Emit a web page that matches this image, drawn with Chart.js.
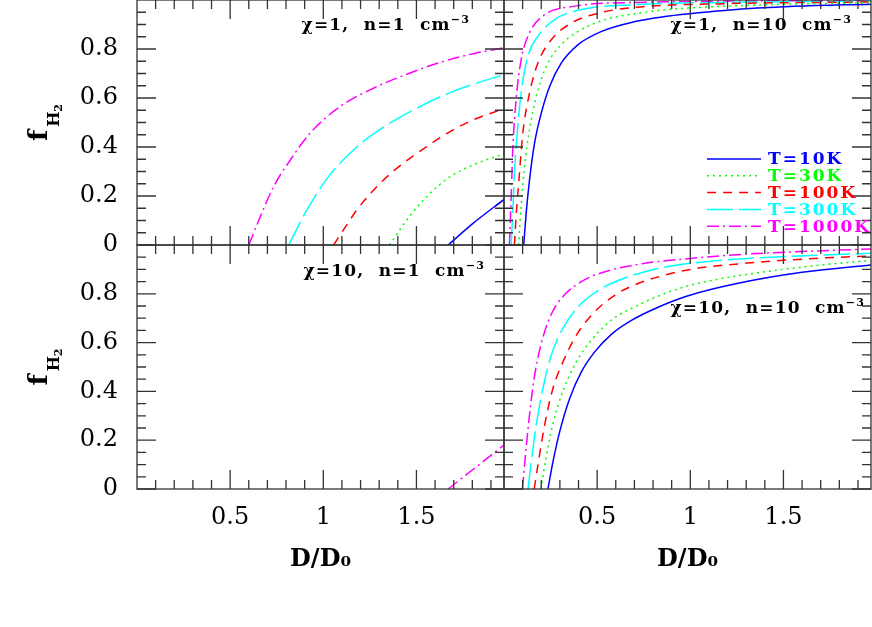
<!DOCTYPE html>
<html>
<head>
<meta charset="utf-8">
<script src="https://cdn.jsdelivr.net/npm/chart.js@4.4.0/dist/chart.umd.min.js"></script>
<style>
  html, body { margin: 0; padding: 0; background: #fff; }
  #wrap { position: relative; width: 872px; height: 627px; }
  #wrap canvas { position: absolute; left: 0; top: 0; }
</style>
</head>
<body>
<div id="wrap">
  <canvas id="c1" width="872" height="627"></canvas>
  <canvas id="c2" width="872" height="627"></canvas>
  <canvas id="c3" width="872" height="627"></canvas>
  <canvas id="c4" width="872" height="627"></canvas>
</div>
<script>
// ---- data ----
const tempLabels = ['T=10K', 'T=30K', 'T=100K', 'T=300K', 'T=1000K'];

const xMajorTicks = [0.5, 1, 1.5];
const xTickLabels = ['0.5', '1', '1.5'];
const xMinorTicks = [0.1, 0.2, 0.3, 0.4, 0.6, 0.7, 0.8, 0.9, 1.1, 1.2, 1.3, 1.4, 1.6, 1.7, 1.8, 1.9];
const yMajorTicks = [0, 0.2, 0.4, 0.6, 0.8];
const yTickLabels = ['0', '0.2', '0.4', '0.6', '0.8'];
const yMinorTicks = [0.05, 0.1, 0.15, 0.25, 0.3, 0.35, 0.45, 0.5, 0.55, 0.65, 0.7, 0.75, 0.85, 0.9, 0.95];

// chi=1, n=1
const c1n1_T10 = [[1.671, 0], [1.805, 0.089], [1.97, 0.186]];
const c1n1_T30 = [[1.355, 0], [1.448, 0.102], [1.555, 0.197], [1.68, 0.279], [1.805, 0.327], [1.97, 0.373]];
const c1n1_T100 = [[1.055, 0], [1.126, 0.082], [1.18, 0.143], [1.305, 0.252], [1.43, 0.334], [1.555, 0.402], [1.697, 0.47], [1.805, 0.511], [1.97, 0.556]];
const c1n1_T300 = [[0.814, 0], [0.912, 0.143], [1.028, 0.279], [1.162, 0.388], [1.287, 0.463], [1.519, 0.565], [1.697, 0.627], [1.97, 0.696]];
const c1n1_T1000 = [[0.6, 0], [0.662, 0.116], [0.733, 0.238], [0.823, 0.347], [0.93, 0.457], [1.09, 0.565], [1.269, 0.64], [1.448, 0.697], [1.626, 0.745], [1.805, 0.781], [1.97, 0.805]];

// chi=1, n=10
const c1n10_T10 = [[0.106, 0], [0.119, 0.13], [0.137, 0.266], [0.164, 0.416], [0.2, 0.538], [0.245, 0.647], [0.308, 0.743], [0.398, 0.818], [0.524, 0.872], [0.704, 0.912], [0.839, 0.93], [1.199, 0.958], [1.558, 0.974], [1.97, 0.983]];
const c1n10_T30 = [[0.078, 0], [0.092, 0.157], [0.11, 0.32], [0.137, 0.47], [0.173, 0.606], [0.227, 0.729], [0.299, 0.811], [0.398, 0.872], [0.542, 0.92], [0.704, 0.944], [0.839, 0.958], [1.378, 0.98], [1.97, 0.989]];
const c1n10_T100 = [[0.056, 0], [0.065, 0.116], [0.083, 0.293], [0.101, 0.457], [0.137, 0.62], [0.182, 0.743], [0.254, 0.838], [0.362, 0.906], [0.506, 0.946], [0.704, 0.97], [1.199, 0.985], [1.97, 0.992]];
const c1n10_T300 = [[0.038, 0], [0.047, 0.13], [0.056, 0.293], [0.071, 0.457], [0.092, 0.62], [0.128, 0.77], [0.182, 0.852], [0.272, 0.92], [0.398, 0.958], [0.704, 0.981], [1.199, 0.99], [1.97, 0.995]];
const c1n10_T1000 = [[0.029, 0], [0.038, 0.18], [0.047, 0.388], [0.065, 0.593], [0.092, 0.756], [0.137, 0.866], [0.218, 0.94], [0.362, 0.973], [0.704, 0.99], [1.97, 0.998]];

// chi=10, n=1
const c10n1_T1000 = [[1.67, 0], [1.822, 0.091], [1.97, 0.18]];

// chi=10, n=10
const c10n10_T10 = [[0.236, 0], [0.263, 0.112], [0.299, 0.235], [0.353, 0.372], [0.416, 0.481], [0.488, 0.563], [0.578, 0.635], [0.686, 0.692], [0.812, 0.74], [0.98, 0.79], [1.25, 0.842], [1.6, 0.888], [1.97, 0.918]];
const c10n10_T30 = [[0.198, 0], [0.225, 0.126], [0.261, 0.262], [0.315, 0.399], [0.389, 0.522], [0.47, 0.611], [0.578, 0.693], [0.722, 0.754], [0.866, 0.802], [1.0, 0.835], [1.307, 0.88], [1.666, 0.915], [1.97, 0.937]];
const c10n10_T100 = [[0.162, 0], [0.182, 0.098], [0.218, 0.262], [0.263, 0.413], [0.317, 0.522], [0.389, 0.631], [0.479, 0.72], [0.596, 0.795], [0.722, 0.843], [0.866, 0.877], [1.0, 0.9], [1.307, 0.926], [1.666, 0.945], [1.97, 0.955]];
const c10n10_T300 = [[0.129, 0], [0.144, 0.098], [0.173, 0.262], [0.209, 0.413], [0.254, 0.549], [0.317, 0.659], [0.407, 0.754], [0.524, 0.822], [0.668, 0.87], [0.829, 0.904], [1.0, 0.925], [1.307, 0.945], [1.97, 0.966]];
const c10n10_T1000 = [[0.099, 0], [0.112, 0.112], [0.135, 0.29], [0.162, 0.454], [0.198, 0.59], [0.252, 0.713], [0.324, 0.795], [0.432, 0.857], [0.576, 0.898], [0.756, 0.925], [1.0, 0.945], [1.307, 0.963], [1.97, 0.984]];

// ---- styles ----
const X_MIN = 0, X_MAX = 1.97;
const colors = ['#0000ff', '#00ff00', '#ff0000', '#00ffff', '#ff00ff'];
const dashes = [[], [2, 4], [9, 7], [26, 6], [12, 4, 2, 4]];
const AXIS_COLOR = '#333';
const MAJOR_LEN = 19, MINOR_LEN = 9;
const SERIF = '"DejaVu Serif", serif';

function makeDatasets(seriesList) {
    // seriesList: one entry per temperature, null when the curve is absent
    const sets = [];
    seriesList.forEach(function(s, i) {
        sets.push({
            label: tempLabels[i],
            data: s ? s.map(p => ({x: p[0], y: p[1]})) : [],
            borderColor: colors[i],
            borderWidth: 1.5,
            borderDash: dashes[i],
            pointRadius: 0,
            fill: false,
            cubicInterpolationMode: 'monotone'
        });
    });
    return sets;
}

/**
 * Frame, inward ticks, panel label, legend, y title
 */
function makeDecor(p) {
    return {
        id: 'decor',
        afterDatasetsDraw(chart) {
            const ctx = chart.ctx;
            const {left, right, top, bottom} = chart.chartArea;
            const xs = chart.scales.x, ys = chart.scales.y;
            ctx.save();
            ctx.strokeStyle = AXIS_COLOR;
            ctx.lineWidth = 1.3;
            ctx.strokeRect(left, top, right - left, bottom - top);
            ctx.beginPath();
            function xt(v, len) {
                const px = xs.getPixelForValue(v);
                ctx.moveTo(px, bottom); ctx.lineTo(px, bottom - len);
                ctx.moveTo(px, top); ctx.lineTo(px, top + len);
            }
            function yt(v, len) {
                const py = ys.getPixelForValue(v);
                ctx.moveTo(left, py); ctx.lineTo(left + len, py);
                ctx.moveTo(right, py); ctx.lineTo(right - len, py);
            }
            xMajorTicks.forEach(v => xt(v, MAJOR_LEN));
            xMinorTicks.forEach(v => xt(v, MINOR_LEN));
            yMajorTicks.forEach(v => yt(v, MAJOR_LEN));
            yMinorTicks.forEach(v => yt(v, MINOR_LEN));
            ctx.stroke();

            // panel label, right aligned
            ctx.fillStyle = '#000';
            ctx.textBaseline = 'alphabetic';
            ctx.textAlign = 'left';
            ctx.letterSpacing = '1.2px';
            ctx.font = 'bold 17px ' + SERIF;
            const wMain = ctx.measureText(p.label).width;
            ctx.font = 'bold 11px ' + SERIF;
            const wSup = ctx.measureText('−3').width;
            const x0 = p.labelRight - wMain - wSup;
            ctx.font = 'bold 17px ' + SERIF;
            ctx.fillText(p.label, x0, p.labelBase);
            ctx.font = 'bold 11px ' + SERIF;
            ctx.fillText('−3', x0 + wMain, p.labelBase - 7);

            // legend
            if (p.legend) {
                ctx.letterSpacing = '2px';
                ctx.font = 'bold 17px ' + SERIF;
                ctx.textBaseline = 'middle';
                chart.data.datasets.forEach(function(ds, i) {
                    const y = 159 + i * 16.8;
                    ctx.strokeStyle = ds.borderColor;
                    ctx.lineWidth = 1.5;
                    ctx.setLineDash(ds.borderDash);
                    ctx.beginPath();
                    ctx.moveTo(707, y); ctx.lineTo(761, y);
                    ctx.stroke();
                    ctx.setLineDash([]);
                    ctx.fillStyle = ds.borderColor;
                    ctx.fillText(ds.label, 768, y + 1);
                });
            }

            // y title f_H2
            if (p.yTitle) {
                const cy = (top + bottom) / 2;
                ctx.letterSpacing = '0px';
                ctx.translate(47, cy);
                ctx.rotate(-Math.PI / 2);
                ctx.fillStyle = '#000';
                ctx.textBaseline = 'alphabetic';
                ctx.font = 'bold 26px ' + SERIF;
                const wf = ctx.measureText('f').width;
                ctx.font = 'bold 16px ' + SERIF;
                const wh = ctx.measureText('H').width;
                ctx.font = 'bold 11px ' + SERIF;
                const w2 = ctx.measureText('2').width;
                const sx = -(wf + wh + w2 + 3) / 2;
                ctx.font = 'bold 26px ' + SERIF;
                ctx.fillText('f', sx, 0);
                ctx.font = 'bold 16px ' + SERIF;
                ctx.fillText('H', sx + wf + 3, 12);
                ctx.font = 'bold 11px ' + SERIF;
                ctx.fillText('2', sx + wf + 3 + wh, 15);
            }
            ctx.restore();
        }
    };
}

function makePanel(p) {
    const xShow = p.xAxis, yShow = p.yAxis;
    new Chart(document.getElementById(p.id), {
        type: 'line',
        data: {datasets: makeDatasets(p.series)},
        options: {
            responsive: false,
            animation: false,
            events: [],
            layout: {padding: p.pad},
            plugins: {legend: {display: false}, tooltip: {enabled: false}},
            scales: {
                x: {
                    type: 'linear', min: X_MIN, max: X_MAX,
                    display: xShow,
                    grid: {display: false, drawTicks: false},
                    border: {display: false},
                    ticks: {
                        padding: 14, color: '#000',
                        font: {family: SERIF, size: 24},
                        maxRotation: 0, autoSkip: false,
                        callback: function(v) {
                            const k = xMajorTicks.indexOf(v);
                            return k >= 0 ? xTickLabels[k] : '';
                        }
                    },
                    title: {
                        display: xShow, text: 'D/D₀', color: '#000',
                        font: {family: SERIF, size: 24, weight: 'bold'},
                        padding: {top: 0, bottom: 53}
                    },
                    afterBuildTicks: function(s) { s.ticks = xMajorTicks.map(v => ({value: v})); },
                    afterFit: function(s) {
                        s.height = xShow ? 138 : 0;
                        s.paddingLeft = 0; s.paddingRight = 0;
                    }
                },
                y: {
                    type: 'linear', min: 0, max: 1,
                    display: yShow,
                    grid: {display: false, drawTicks: false},
                    border: {display: false},
                    ticks: {
                        padding: 19, color: '#000',
                        font: {family: SERIF, size: 24},
                        autoSkip: false,
                        callback: function(v) {
                            const k = yMajorTicks.indexOf(v);
                            return k >= 0 ? yTickLabels[k] : '';
                        }
                    },
                    afterBuildTicks: function(s) { s.ticks = yMajorTicks.map(v => ({value: v})); },
                    afterFit: function(s) {
                        s.width = yShow ? 137 : 0;
                        s.paddingTop = 0; s.paddingBottom = 0;
                    }
                }
            }
        },
        plugins: [makeDecor(p)]
    });
}

makePanel({
    id: 'c1', xAxis: false, yAxis: true, yTitle: true,
    pad: {left: 0, top: 0, right: 368, bottom: 382},
    label: 'χ=1,  n=1  cm', labelRight: 470, labelBase: 30,
    series: [c1n1_T10, c1n1_T30, c1n1_T100, c1n1_T300, c1n1_T1000]
});
makePanel({
    id: 'c2', xAxis: false, yAxis: false, legend: true,
    pad: {left: 504, top: 0, right: 1, bottom: 382},
    label: 'χ=1,  n=10  cm', labelRight: 852, labelBase: 30,
    series: [c1n10_T10, c1n10_T30, c1n10_T100, c1n10_T300, c1n10_T1000]
});
makePanel({
    id: 'c3', xAxis: true, yAxis: true, yTitle: true,
    pad: {left: 0, top: 245, right: 368, bottom: 0},
    label: 'χ=10,  n=1  cm', labelRight: 485, labelBase: 276,
    series: [null, null, null, null, c10n1_T1000]
});
makePanel({
    id: 'c4', xAxis: true, yAxis: false,
    pad: {left: 504, top: 245, right: 1, bottom: 0},
    label: 'χ=10,  n=10  cm', labelRight: 865, labelBase: 313,
    series: [c10n10_T10, c10n10_T30, c10n10_T100, c10n10_T300, c10n10_T1000]
});
</script>
</body>
</html>
